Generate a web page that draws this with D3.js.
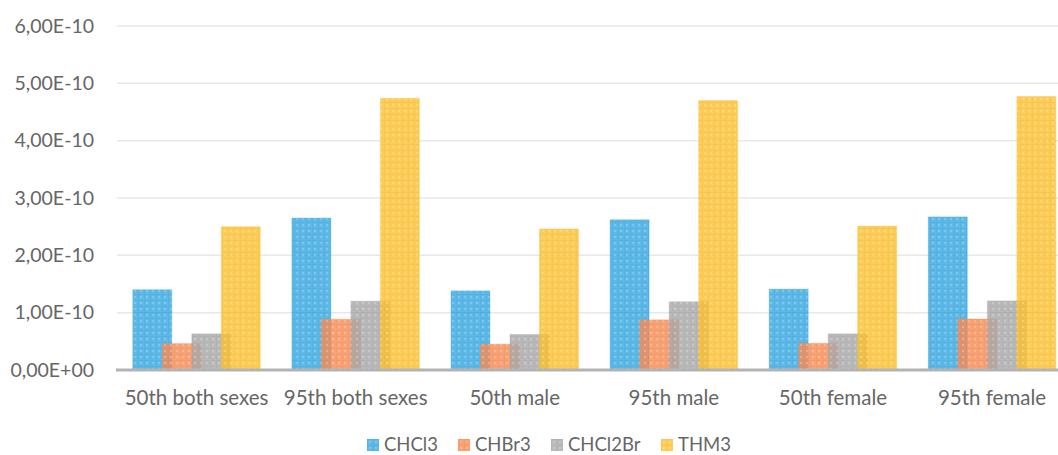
<!DOCTYPE html>
<html>
<head>
<meta charset="utf-8">
<script src="https://cdn.jsdelivr.net/npm/d3@7/dist/d3.min.js"></script>
<style>
  html, body { margin: 0; padding: 0; background: #fff; }
  svg { display: block; }
  text { font-family: Lato, "Open Sans", sans-serif; fill: #666; }
</style>
</head>
<body>
<svg id="chart" width="1058" height="455"></svg>
<script>
// Exposure groups and compounds
const categories = ["50th both sexes", "95th both sexes", "50th male", "95th male", "50th female", "95th female"];
const seriesNames = ["CHCl3", "CHBr3", "CHCl2Br", "THM3"];
const CHCl3   = [1.40e-10, 2.65e-10, 1.38e-10, 2.62e-10, 1.41e-10, 2.67e-10];
const CHBr3   = [0.46e-10, 0.885e-10, 0.45e-10, 0.875e-10, 0.465e-10, 0.89e-10];
const CHCl2Br = [0.63e-10, 1.20e-10, 0.62e-10, 1.19e-10, 0.63e-10, 1.205e-10];
const THM3    = [2.50e-10, 4.74e-10, 2.46e-10, 4.70e-10, 2.51e-10, 4.77e-10];
const yTicks  = [0, 1e-10, 2e-10, 3e-10, 4e-10, 5e-10, 6e-10];
const yTickLabels = ["0,00E+00", "1,00E-10", "2,00E-10", "3,00E-10", "4,00E-10", "5,00E-10", "6,00E-10"];
const colors = ["#3ba9e2", "#f68e58", "#aaaaaa", "#fdc236"];

const seriesValues = [CHCl3, CHBr3, CHCl2Br, THM3];

const svg = d3.select("#chart");
const mLeft = 117, mRight = 1071.6, mTop = 26, mBottom = 370;

const x = d3.scaleBand().domain(categories).range([mLeft, mRight]);
const y = d3.scaleLinear().domain([0, 6e-10]).range([mBottom, mTop]);

// Textured fills: a tinted base with a soft checked grid
const defs = svg.append("defs");
colors.forEach((c, i) => {
  const p = defs.append("pattern")
    .attr("id", "pat" + i)
    .attr("patternUnits", "userSpaceOnUse")
    .attr("width", 6).attr("height", 6);
  p.append("rect").attr("width", 6).attr("height", 6)
    .attr("fill", c).attr("fill-opacity", 0.82);
  p.append("rect").attr("x", 2).attr("y", 2).attr("width", 2).attr("height", 2)
    .attr("fill", "#fff").attr("fill-opacity", 0.2);
  p.append("rect").attr("x", 0).attr("y", 0).attr("width", 6).attr("height", 1)
    .attr("fill", d3.color(c).darker(0.3)).attr("fill-opacity", 0.2);
  p.append("rect").attr("x", 0).attr("y", 0).attr("width", 1).attr("height", 6)
    .attr("fill", d3.color(c).darker(0.3)).attr("fill-opacity", 0.2);
});

// Gridlines
svg.append("g")
  .selectAll("line")
  .data(yTicks.slice(1))
  .join("line")
  .attr("x1", mLeft).attr("x2", 1058)
  .attr("y1", d => y(d)).attr("y2", d => y(d))
  .attr("stroke", "#e8e8e8").attr("stroke-width", 1.5);

// Y axis labels
const yAxis = d3.axisLeft(y).tickValues(yTicks)
  .tickFormat((d, i) => yTickLabels[i]).tickSize(0).tickPadding(23);
const gy = svg.append("g").attr("transform", `translate(${mLeft},0)`).call(yAxis);
gy.select(".domain").remove();
gy.selectAll("text").attr("font-size", 19.5).attr("fill", "#666")
  .style("font-family", "Lato, sans-serif");

// Bars
const gw = x.bandwidth();
const bw = gw * 0.245;
const step = bw * 0.757;
const span = step * 3 + bw;

seriesValues.forEach((vals, si) => {
  svg.append("g")
    .selectAll("rect")
    .data(vals.map((v, i) => ({ cat: categories[i], v })))
    .join("rect")
    .attr("x", d => x(d.cat) + gw / 2 - span / 2 + si * step)
    .attr("y", d => y(d.v))
    .attr("width", bw)
    .attr("height", d => y(0) - y(d.v))
    .attr("fill", `url(#pat${si})`)
    .attr("stroke", colors[si]).attr("stroke-opacity", 0.35).attr("stroke-width", 1);
});

// Category axis
const xAxis = d3.axisBottom(x).tickSize(0).tickPadding(20);
const gx = svg.append("g").attr("transform", `translate(0,${mBottom})`).call(xAxis);
gx.select(".domain").remove();
gx.selectAll("text").attr("font-size", 20.5).attr("fill", "#666")
  .style("font-family", "Lato, sans-serif");
svg.append("line")
  .attr("x1", mLeft - 1).attr("x2", 1058)
  .attr("y1", mBottom).attr("y2", mBottom)
  .attr("stroke", "#b3b3b3").attr("stroke-width", 3);

// Legend
const legendX = [367, 458, 551, 661];
const lg = svg.append("g").selectAll("g")
  .data(seriesNames)
  .join("g")
  .attr("transform", (d, i) => `translate(${legendX[i]},439)`);
lg.append("rect").attr("width", 12).attr("height", 12)
  .attr("fill", (d, i) => `url(#pat${i})`);
lg.append("text").attr("x", 17).attr("y", 6).attr("dy", "0.35em")
  .attr("font-size", 18.5).text(d => d);
</script>
</body>
</html>
